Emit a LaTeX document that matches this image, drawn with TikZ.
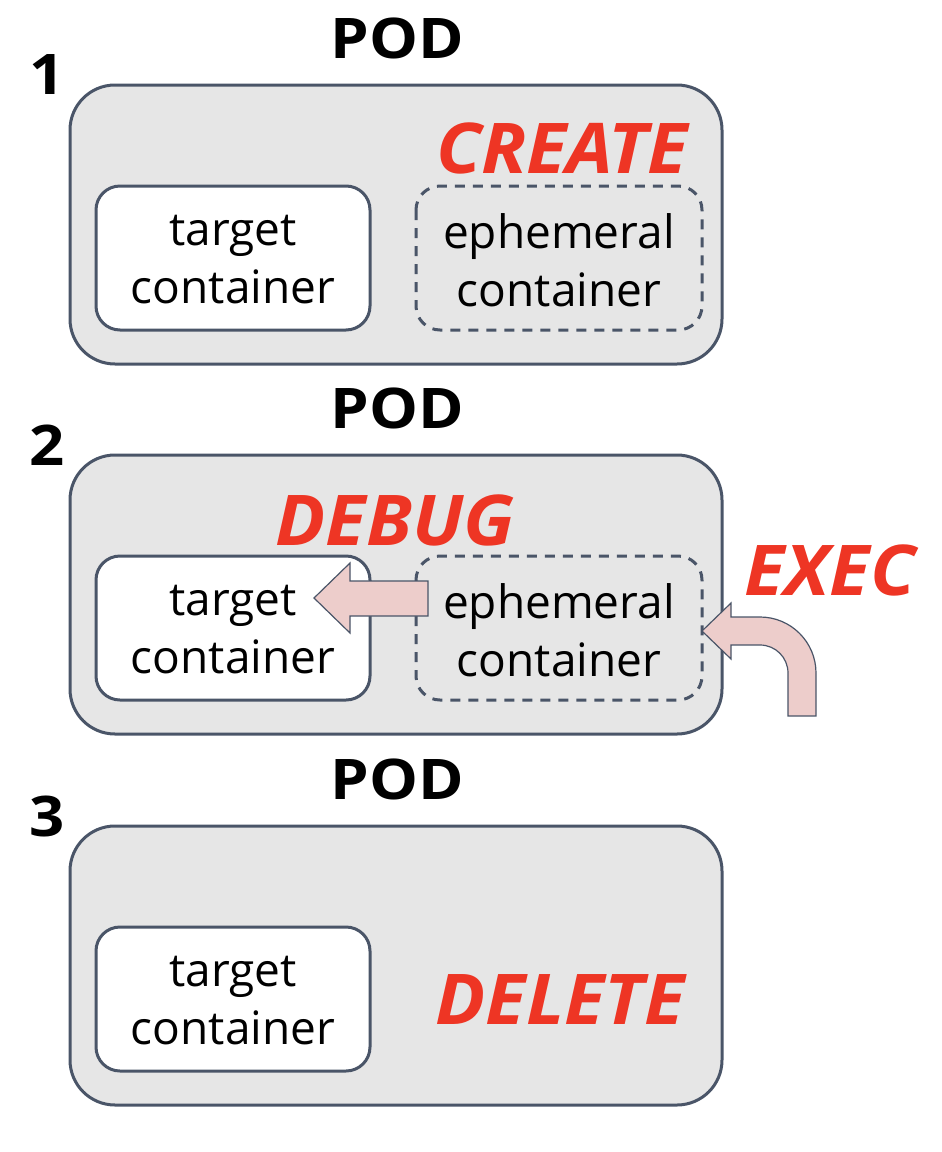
\documentclass[tikz,border=0pt]{standalone}
\usepackage{fontspec}
\setmainfont{Open Sans}
\definecolor{podfill}{HTML}{E6E6E6}
\definecolor{edge}{HTML}{4A5568}
\definecolor{act}{HTML}{EE3524}
\definecolor{arrowfill}{HTML}{EDCDCB}
\begin{document}
\begin{tikzpicture}[x=1pt,y=-1pt,
  pod/.style={draw=edge,fill=podfill,line width=3pt,rounded corners=45pt},
  tbox/.style={draw=edge,fill=white,line width=3pt,rounded corners=24pt},
  ebox/.style={draw=edge,line width=3pt,rounded corners=24pt,dash pattern=on 10pt off 8pt},
  lbl/.style={font=\fontsize{46}{58}\selectfont,align=center,inner sep=0pt},
  head/.style={font=\fontsize{56}{60}\selectfont\bfseries,inner sep=0pt,xscale=1.1},
  verb/.style={font=\fontsize{70}{76}\selectfont\bfseries\itshape,text=act,inner sep=0pt,xscale=1.06},
  fat/.style={draw=edge,fill=arrowfill,line width=1.2pt,line join=miter}]
\path[use as bounding box] (0,0) rectangle (942,1152);
\foreach \i/\t in {1/85,2/455,3/826}{
  \draw[pod] (70,\t) rectangle (722,\t+279);
  \node[head] (num\i) at (47,\t-10) {\i};
  \node[head] (pod\i) at (397,\t-47) {POD};
  \draw[tbox] (96,\t+101) rectangle (370,\t+245);
  \node[lbl] (tgt\i) at (233,\t+175) {target\\container};
}
\foreach \i/\t in {1/85,2/455}{
  \draw[ebox] (416,\t+101) rectangle (702,\t+245);
  \node[lbl] (eph\i) at (559,\t+175) {ephemeral\\container};
}
\node[verb] (create) at (562,148) {CREATE};
\node[verb] (debug) at (395,520) {DEBUG};
\node[verb] (exec) at (830,570) {EXEC};
\node[verb] (delete) at (560,1000) {DELETE};
% debug arrow
\draw[fat] (428,581) -- (350,581) -- (350,563) -- (314,598) -- (350,633) -- (350,616) -- (428,616) -- cycle;
% exec arrow
\draw[fat] (816,716) -- (816,673) .. controls (816,642.1) and (790.9,617) .. (760,617)
  -- (731,617) -- (731,603) -- (702,631) -- (731,659) -- (731,645) -- (760,645)
  .. controls (775.5,645) and (788,657.5) .. (788,673) -- (788,716) -- cycle;
\end{tikzpicture}
\end{document}
